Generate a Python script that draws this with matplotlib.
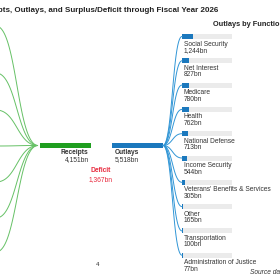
import matplotlib.pyplot as plt
import numpy as np

plt.rcParams['font.family'] = ['Liberation Sans', 'DejaVu Sans']

# data
total_receipts = 4151
total_outlays = 5518
deficit = 1367
functions = ["Social Security", "Net Interest", "Medicare", "Health",
             "National Defense", "Income Security",
             "Veterans' Benefits & Services", "Other", "Transportation",
             "Administration of Justice"]
function_values = [1244, 827, 780, 762, 713, 544, 305, 165, 100, 77]

# receipt source rows sit off the left edge, only their links show
receipt_rows = [26, 73, 110, 146, 182, 218, 252]

GREEN = "#1f9e1f"
GREEN_LINE = "#66c166"
BLUE = "#1b78bd"
BLUE_LINE = "#3196d6"
GREY = "#ebebeb"
TXT = "#333333"


def bezier(x0, y0, x1, y1, n=80):
    t = np.linspace(0, 1, n)
    xm = (x0 + x1) / 2
    xs = (1-t)**3*x0 + 3*(1-t)**2*t*xm + 3*(1-t)*t**2*xm + t**3*x1
    ys = (1-t)**3*y0 + 3*(1-t)**2*t*y0 + 3*(1-t)*t**2*y1 + t**3*y1
    return xs, ys


def main():
    fig = plt.figure(figsize=(2.8, 2.8), dpi=100)
    ax = fig.add_axes([0, 0, 1, 1])
    ax.set_xlim(0, 280)
    ax.set_ylim(280, 0)
    ax.axis("off")

    hub_y = 145.5
    bar_h = 5

    # titles
    ax.text(218, 10, "Federal Receipts, Outlays, and Surplus/Deficit through Fiscal Year 2026",
            ha="right", va="center", fontsize=5.8, fontweight="bold", color="#222222")
    ax.text(213, 24, "Outlays by Function", ha="left", va="center",
            fontsize=5.3, fontweight="bold", color="#222222")

    # receipts links
    for ry in receipt_rows:
        xs, ys = bezier(-4, ry, 38, hub_y)
        ax.plot(xs, ys, color=GREEN_LINE, lw=0.7, solid_capstyle="butt")

    # receipts and outlays bars
    ax.add_patch(plt.Rectangle((40, hub_y - bar_h/2), 51, bar_h, color=GREEN, lw=0))
    ax.add_patch(plt.Rectangle((112, hub_y - bar_h/2), 51, bar_h, color=BLUE, lw=0))
    ax.text(88, 153, "Receipts", ha="right", va="center", fontsize=4.8,
            fontweight="bold", color=TXT)
    ax.text(89, 159.5, f"{total_receipts:,}bn", ha="right", va="center",
            fontsize=4.8, color=TXT)
    ax.text(115, 153, "Outlays", ha="left", va="center", fontsize=4.8,
            fontweight="bold", color=TXT)
    ax.text(115, 159.5, f"{total_outlays:,}bn", ha="left", va="center",
            fontsize=4.8, color=TXT)

    # deficit
    ax.text(101, 171, "Deficit", ha="center", va="center", fontsize=4.8,
            fontweight="bold", color="#e8283c")
    ax.text(101, 180, f"{deficit:,}bn", ha="center", va="center",
            fontsize=4.8, color="#e8283c")

    # outlays by function
    bar_x = 182
    bar_w = 50
    y0 = 36.5
    step = 24.3
    for i, (name, val) in enumerate(zip(functions, function_values)):
        by = y0 + i * step
        xs, ys = bezier(163, hub_y, bar_x, by)
        ax.plot(xs, ys, color=BLUE_LINE, lw=0.7)
        ax.add_patch(plt.Rectangle((bar_x, by - bar_h/2), bar_w, bar_h, color=GREY, lw=0))
        ax.add_patch(plt.Rectangle((bar_x, by - bar_h/2), bar_w * val / total_outlays,
                                   bar_h, color=BLUE, lw=0))
        ax.text(bar_x + 2, by + 7.5, name, ha="left", va="center", fontsize=4.8, color=TXT)
        ax.text(bar_x + 2, by + 14, f"{val:,}bn", ha="left", va="center",
                fontsize=4.8, color=TXT)

    ax.text(98, 265, "4", ha="center", va="center", fontsize=4.5, color=TXT)
    ax.text(250, 272, "Source data", ha="left", va="center", fontsize=4.8,
            style="italic", color=TXT)

    fig.savefig("out.png", dpi=100)


if __name__ == "__main__":
    main()
